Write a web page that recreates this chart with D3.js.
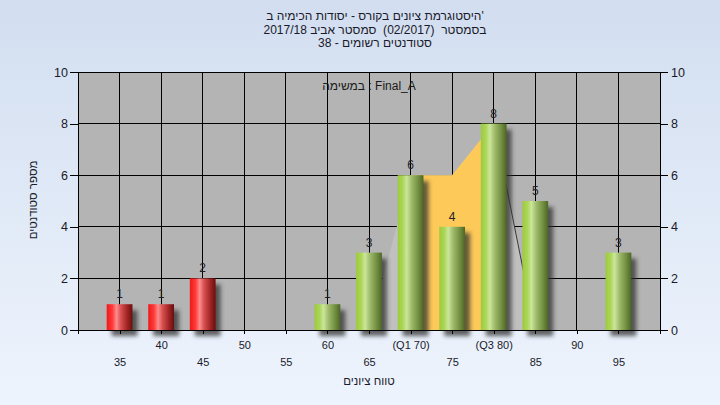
<!DOCTYPE html>
<html><head><meta charset="utf-8">
<script src="https://cdn.jsdelivr.net/npm/d3@7"></script>
<style>
html,body{margin:0;padding:0;background:#e3ebf7;}
text{font-family:"Liberation Sans",Arial,sans-serif;white-space:pre;}
</style></head>
<body>
<svg id="chart" width="720" height="405"></svg>
<script>
// ---- data ----
const categories = [35,40,45,50,55,60,65,70,75,80,85,90,95];
const tickLabels = ["35","40","45","50","55","60","65","(Q1 70)","75","(Q3 80)","85","90","95"];
const counts = [1,1,2,0,0,1,3,6,4,8,5,0,3];
const barGroup = ["fail","fail","fail","fail","fail","pass","pass","pass","pass","pass","pass","pass","pass"];
const rangeX = [65,70,75,80,85];
const rangeY = [0,6,6,8,0];
const quartiles = [70,80];
const yTicks = [0,2,4,6,8,10];
const titleLines = ["היסטוגרמת ציונים בקורס - יסודות הכימיה ב'","בסמסטר  (02/2017)  סמסטר אביב 2017/18","סטודנטים רשומים - 38"];
const subtitle = "במשימה : Final_A";
const xTitle = "טווח ציונים";
const yTitle = "מספר סטודנטים";

const W = 720, H = 405;
const m = {l:78, r:660, t:72, b:330};
const svg = d3.select("#chart");
const defs = svg.append("defs");

const bg = defs.append("linearGradient").attr("id","bg").attr("x1",0).attr("y1",0).attr("x2",0).attr("y2",1);
bg.append("stop").attr("offset","0%").attr("stop-color","#d2def0");
bg.append("stop").attr("offset","100%").attr("stop-color","#eef4fd");

function barGrad(id, stops){
  const g = defs.append("linearGradient").attr("id",id).attr("x1",0).attr("y1",0).attr("x2",1).attr("y2",0);
  stops.forEach(s=>g.append("stop").attr("offset",s[0]).attr("stop-color",s[1]));
}
barGrad("gfail",[["0%","#f01818"],["22%","#ff3a3a"],["38%","#ff8c8c"],["55%","#d85050"],["80%","#a02424"],["100%","#6a0e0e"]]);
barGrad("gpass",[["0%","#9ccb3a"],["20%","#acd65a"],["35%","#cbe69a"],["55%","#9cb868"],["80%","#728e40"],["100%","#4c6626"]]);
const f = defs.append("filter").attr("id","blur").attr("x","-50%").attr("y","-50%").attr("width","200%").attr("height","200%");
f.append("feGaussianBlur").attr("stdDeviation",2.2);

svg.append("rect").attr("width",W).attr("height",H).attr("fill","url(#bg)");

const x = d3.scaleLinear().domain([30,100]).range([m.l,m.r]);
const y = d3.scaleLinear().domain([0,10]).range([m.b,m.t]);
const step = x(35)-x(30);
const bw = step*0.62;

// plot area
svg.append("rect").attr("x",m.l).attr("y",m.t).attr("width",m.r-m.l).attr("height",m.b-m.t).attr("fill","#b4b4b4");

// grid
const grid = svg.append("g").attr("stroke","#000").attr("stroke-width",1).attr("shape-rendering","crispEdges");
grid.selectAll(".gh").data(yTicks).join("line").attr("x1",m.l).attr("x2",m.r).attr("y1",d=>y(d)).attr("y2",d=>y(d));
grid.selectAll(".gv").data(categories).join("line").attr("x1",d=>x(d)).attr("x2",d=>x(d)).attr("y1",m.t).attr("y2",m.b);

// quartile range area
const pts = rangeX.map((v,i)=>[v,rangeY[i]]);
const area = d3.area().x(d=>x(d[0])).y0(y(0)).y1(d=>y(d[1]));
svg.append("path").datum(pts).attr("d",area).attr("fill","#c0c0c0");
svg.append("path").datum(pts.filter(d=>d[0]>=quartiles[0]&&d[0]<=quartiles[1])).attr("d",area).attr("fill","#fdc958");
svg.append("path").datum(pts.filter(d=>d[0]>=quartiles[1])).attr("d",d3.line().x(d=>x(d[0])).y(d=>y(d[1])))
  .attr("fill","none").attr("stroke","#3a3a3a").attr("stroke-width",1);

// subtitle inside plot
svg.append("text").attr("x",(m.l+m.r)/2).attr("y",90).attr("text-anchor","middle").attr("direction","ltr")
  .attr("font-size",12).attr("fill","#1a1a1a").text(subtitle);

// bars
const data = categories.map((c,i)=>({c, v:counts[i], g:barGroup[i], i})).filter(d=>d.v>0);
const bars = svg.append("g");
bars.selectAll(".sh").data(data).join("rect")
  .attr("x",d=>x(d.c)-bw/2+5).attr("y",d=>y(d.v)+6).attr("width",bw).attr("height",d=>y(0)-y(d.v))
  .attr("fill","#303030").attr("opacity",0.75).attr("filter","url(#blur)");
bars.selectAll(".b").data(data).join("rect")
  .attr("x",d=>x(d.c)-bw/2).attr("y",d=>y(d.v)).attr("width",bw).attr("height",d=>y(0)-y(d.v))
  .attr("fill",d=>d.g==="fail"?"url(#gfail)":"url(#gpass)");
bars.selectAll(".vl").data(data).join("text")
  .attr("x",d=>x(d.c)).attr("y",d=>y(d.v)-6).attr("text-anchor","middle").attr("font-size",12).attr("fill","#1e1e28")
  .text(d=>d.v);

// axes
const yl = d3.axisLeft(y).tickValues(yTicks).tickSize(8).tickSizeOuter(0).tickPadding(2);
const yr = d3.axisRight(y).tickValues(yTicks).tickSize(8).tickSizeOuter(0).tickPadding(3);
const gl = svg.append("g").attr("transform",`translate(${m.l},0)`).call(yl);
const gr = svg.append("g").attr("transform",`translate(${m.r},0)`).call(yr);
[gl,gr].forEach(g=>{
  g.select(".domain").remove();
  g.selectAll("line").attr("stroke","#000").attr("shape-rendering","crispEdges");
  g.selectAll("text").attr("font-size",12.5).attr("fill","#1a1a2a").attr("font-family","Liberation Sans, Arial, sans-serif");
});
const xa = d3.axisBottom(x).tickValues(categories).tickSize(4).tickSizeOuter(0).tickFormat((d,i)=>tickLabels[i]);
const gx = svg.append("g").attr("transform",`translate(0,${m.b})`).call(xa);
gx.select(".domain").remove();
gx.selectAll("line").attr("stroke","#000").attr("shape-rendering","crispEdges");
gx.selectAll("text").attr("font-size",11).attr("fill","#1a1a2a").attr("font-family","Liberation Sans, Arial, sans-serif")
  .attr("dy",null).attr("y",(d,i)=> i%2===1 ? 19 : 36);

const frame = svg.append("g").attr("stroke","#000").attr("shape-rendering","crispEdges");
frame.append("line").attr("x1",m.l).attr("x2",m.r).attr("y1",m.b).attr("y2",m.b);
frame.append("line").attr("x1",m.l).attr("x2",m.l).attr("y1",m.t).attr("y2",m.b+4);
frame.append("line").attr("x1",m.r).attr("x2",m.r).attr("y1",m.t).attr("y2",m.b+4);

// titles
svg.append("g").selectAll("text").data(titleLines).join("text")
  .attr("x",375).attr("y",(d,i)=>20+i*13.5).attr("text-anchor","middle").attr("direction","ltr")
  .attr("font-size",12).attr("fill","#1a1a2a").text(d=>d);
svg.append("text").attr("x",(m.l+m.r)/2).attr("y",385).attr("text-anchor","middle").attr("direction","ltr")
  .attr("font-size",11.5).attr("fill","#1a1a2a").text(xTitle);
svg.append("text").attr("transform","translate(37,200) rotate(-90)").attr("text-anchor","middle").attr("direction","rtl")
  .attr("font-size",11.5).attr("fill","#1a1a2a").text(yTitle);
</script>
</body></html>
